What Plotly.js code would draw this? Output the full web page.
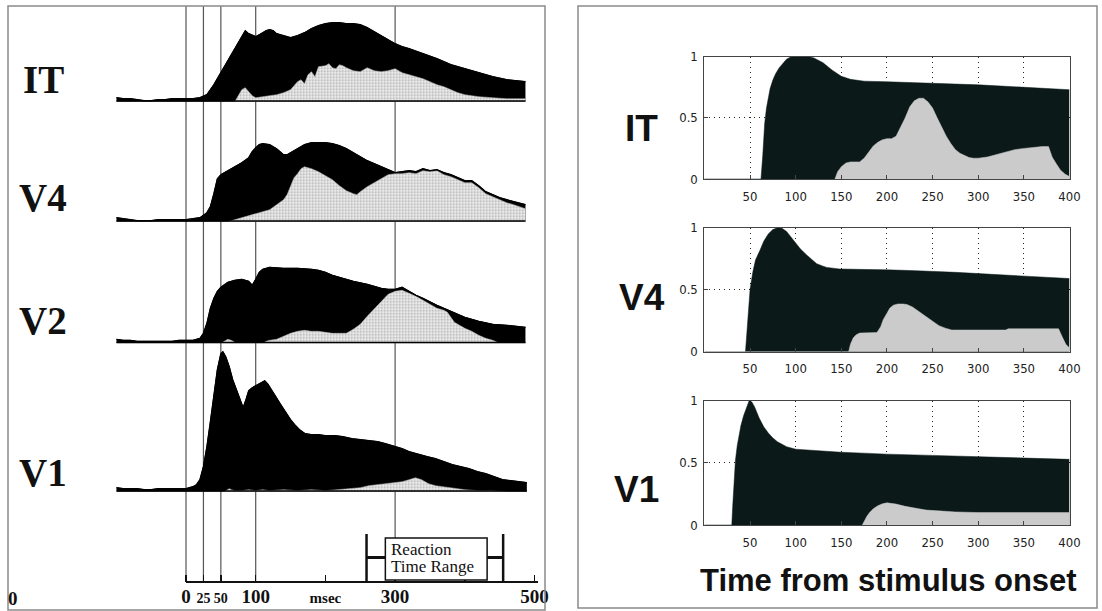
<!DOCTYPE html>
<html><head><meta charset="utf-8">
<script src="https://cdn.plot.ly/plotly-3.0.1.min.js"></script>
<style>html,body{margin:0;padding:0;background:#fff;}#chart{width:1102px;height:611px;}</style>
</head><body><div id="chart"></div>
<script>
// ---------------- LEFT: recorded PSTHs (time in msec, rate in arbitrary units) ----------------
const tIT = [-100,-90,-80,-70,-60,-50,-40,-30,-20,-10,0,10,20,30,40,50,60,70,80,85,90,100,110,115,120,125,130,140,150,160,170,180,190,200,210,220,230,240,250,260,270,280,290,300,310,320,340,360,380,400,420,440,460,480,487];
const itBlack = [4,3,3,2,1,1,2,2,3,3,3,3,4,7,17,29,41,52,64,71,68,65,69,71,72,71,68,66,64,66,69,73,76,78,79,79,78,78,77,74,70,66,62,58,55,53,48,43,37,33,29,25,22,20,20];
const tITg = [70,75,80,85,90,95,100,110,120,130,140,150,155,160,165,170,175,180,185,190,200,205,210,215,220,225,230,240,250,260,270,280,290,300,310,320,330,340,350,360,370,380,390,400,420,440,460,480,487];
const itGray = [0,6,12,14,10,6,4,5,6,7,9,12,16,20,22,18,27,30,25,35,36,38,34,33,37,36,34,31,30,34,31,30,31,33,29,27,25,23,20,17,15,12,9,7,5,4,3,3,3];

const tV4 = [-100,-90,-80,-70,-60,-50,-40,-30,-20,-10,0,10,20,30,35,40,45,50,60,70,80,90,95,100,105,110,120,130,140,145,150,160,170,180,190,200,210,220,230,240,250,260,270,280,290,300,310,320,330,340,350,360,370,380,390,400,410,420,430,440,450,460,470,480,487];
const v4Black = [4,3,2,1,1,1,2,2,2,2,2,3,4,9,15,28,43,47,51,55,59,64,70,74,77,78,77,73,67,67,69,73,77,79,79,79,78,76,73,69,65,61,58,55,52,49,50,51,50,53,51,52,49,47,44,41,41,36,30,27,24,22,20,18,17];
const tV4g = [60,70,80,90,100,110,120,130,140,145,150,155,160,165,170,180,190,200,210,220,230,240,245,250,260,270,280,290,300,310,320,330,340,350,360,370,380,390,400,410,420,430,440,450,460,470,480,487];
const v4Gray = [0,2,4,6,8,10,12,17,22,27,36,44,48,53,55,53,50,46,42,36,31,28,27,30,35,39,43,47,48,48,49,48,51,50,51,47,45,42,39,39,34,28,25,22,19,17,15,13];

const tV2 = [-100,-90,-80,-70,-60,-50,-40,-30,-20,-10,0,10,20,25,30,35,40,45,50,60,70,80,90,95,100,105,110,120,140,160,180,190,200,210,220,240,260,280,290,300,310,320,330,340,360,380,400,420,440,460,480,487];
const v2Black = [4,3,3,2,2,2,2,2,2,3,3,3,5,10,20,35,45,52,56,61,63,64,62,58,64,71,74,76,75,75,74,73,71,68,66,62,59,55,54,54,56,52,48,45,38,32,26,22,19,18,16,16];
const tV2g = [50,55,60,65,70,75,110,115,120,130,140,150,160,170,180,190,200,210,220,230,240,250,260,270,280,290,300,310,320,330,340,350,360,370,375,380,385,390,400,410,420,430,440,450];
const v2Gray = [0,2,4,3,1,0,0,2,3,4,7,10,12,13,12,12,11,10,10,10,14,19,27,34,41,49,52,53,50,47,43,39,35,33,31,26,21,19,15,12,8,5,3,0];

const tV1 = [-100,-90,-80,-70,-60,-50,-40,-30,-20,-10,0,5,10,15,20,25,30,35,40,45,50,53,57,62,67,72,77,82,86,90,95,100,105,110,113,117,122,127,135,142,150,156,163,171,180,190,200,214,225,238,250,262,275,286,300,310,320,334,346,358,370,382,394,406,418,430,442,454,466,478,489];
const v1Black = [4,3,3,3,2,2,3,3,3,3,3,4,5,7,12,25,45,70,98,122,138,140,135,125,112,102,92,84,92,101,104,106,108,110,111,108,103,97,88,80,72,67,62,58,57,57,56,56,55,53,52,51,50,48,45,43,40,37,35,33,30,27,25,23,20,18,15,12,11,10,9];
const tV1g = [55,60,62,65,70,80,90,100,110,120,140,160,180,200,220,238,250,262,275,286,300,310,320,329,338,348,358,368,378,387,400,420,440,460];
const v1Gray = [0,2,3,2,1,1,2,1,2,1,2,1,2,1,2,3,4,6,7,8,9,10,12,14,12,8,6,5,4,3,2,1,1,0];

const leftNames = ['IT','V4','V2','V1'];
const markerTimes = [0,25,50,100,300];
const leftTickVals = [0,25,50,100,200,300,400,500];
const leftTickText = ['0','25','50','100','msec','300','','500'];
const axisSpan = [0,505];
const rtRange = [259,455];      // reaction time range bracket (msec)
const rtBox = [286,432];        // label box (msec)

// ---------------- RIGHT: model responses (normalised) ----------------
const rxIT = [0,62,64,66,68,70,72,75,78,82,86,90,95,115,120,130,140,150,160,175,200,225,250,275,300,325,350,375,400];
const ryIT = [0,0,0.2,0.45,0.58,0.67,0.74,0.81,0.86,0.91,0.95,0.98,1.0,1.0,0.99,0.95,0.89,0.84,0.815,0.8,0.795,0.79,0.785,0.775,0.77,0.76,0.75,0.735,0.73];
const gxIT = [143,146,150,155,160,170,175,180,185,190,195,200,205,210,215,220,225,230,235,240,245,250,255,260,265,270,275,280,285,290,295,300,310,320,330,340,350,360,370,377,381,385,390,395,400];
const gyIT = [0,0.06,0.1,0.13,0.14,0.14,0.17,0.22,0.27,0.3,0.32,0.33,0.33,0.35,0.42,0.5,0.59,0.64,0.66,0.66,0.63,0.58,0.5,0.42,0.35,0.29,0.24,0.21,0.19,0.175,0.17,0.17,0.18,0.2,0.22,0.24,0.25,0.26,0.265,0.265,0.18,0.13,0.074,0.04,0.02];

const rxV4 = [0,45,47,49,50,53,56,61,65,70,75,80,85,90,97,105,112,118,123,130,134,148,175,200,225,250,275,300,325,350,375,400];
const ryV4 = [0,0,0.2,0.4,0.5,0.64,0.74,0.82,0.89,0.95,0.985,1.0,0.995,0.97,0.9,0.83,0.78,0.74,0.71,0.69,0.68,0.667,0.665,0.66,0.655,0.65,0.64,0.63,0.62,0.605,0.595,0.59];
const gxV4 = [158,160,163,166,170,180,189,193,196,200,203,207,212,218,222,228,234,239,245,250,257,264,271,280,300,330,333,360,388,392,396,400];
const gyV4 = [0,0.06,0.11,0.135,0.15,0.155,0.155,0.2,0.26,0.31,0.35,0.375,0.385,0.385,0.38,0.36,0.33,0.3,0.27,0.245,0.21,0.19,0.175,0.175,0.175,0.175,0.185,0.185,0.185,0.12,0.06,0.03];

const rxV1 = [0,30,31,32,33,34,36,38,40,43,46,49,52,55,60,65,70,75,80,90,100,125,150,175,200,250,300,350,400];
const ryV1 = [0,0,0.15,0.3,0.43,0.52,0.64,0.74,0.8,0.88,0.95,1.0,0.99,0.95,0.86,0.79,0.74,0.7,0.67,0.63,0.61,0.595,0.585,0.578,0.57,0.56,0.55,0.54,0.528];
const gxV1 = [173,175,178,181,185,190,195,200,205,210,220,230,243,260,275,300,400];
const gyV1 = [0,0.03,0.07,0.1,0.13,0.155,0.17,0.178,0.176,0.168,0.15,0.135,0.12,0.112,0.105,0.1,0.1];

const rightNames = ['IT','V4','V1'];
const rightXTicks = [50,100,150,200,250,300,350,400];
const rightYTicks = [0,0.5,1];
const rightYText = ['0','0.5','1'];
const xLabel = 'Time from stimulus onset';

// ---------------- geometry / style ----------------
const W=1102, H=611;
const fx = p => p/W, fy = p => 1 - p/H;
const SERIF = 'Liberation Serif, Times New Roman, serif';
const SANS = 'Liberation Sans, Arial, Helvetica, sans-serif';
const NARROW = 'Liberation Sans Narrow, Arial Narrow, DejaVu Sans Condensed, sans-serif';
const DARK = '#0b1919', LGRAY = '#cbcbcb';

const leftSets = [
  {t:tIT, b:itBlack, tg:tITg, g:itGray, base:101.7, h:95, lab:79},
  {t:tV4, b:v4Black, tg:tV4g, g:v4Gray, base:221.7, h:115, lab:197},
  {t:tV2, b:v2Black, tg:tV2g, g:v2Gray, base:343.3, h:115, lab:320},
  {t:tV1, b:v1Black, tg:tV1g, g:v1Gray, base:491.7, h:150, lab:472}
];
const rightSets = [
  {x:rxIT, y:ryIT, gx:gxIT, gy:gyIT, top:56.7, bot:179, lab:128, lx:641},
  {x:rxV4, y:ryV4, gx:gxV4, gy:gyV4, top:227.7, bot:351.7, lab:297, lx:642},
  {x:rxV1, y:ryV1, gx:gxV1, gy:gyV1, top:400.7, bot:525, lab:489, lx:636}
];

const traces = [];
const layout = {
  width: W, height: H,
  margin: {l:0, r:0, t:0, b:0},
  paper_bgcolor: '#fff', plot_bgcolor: 'rgba(0,0,0,0)',
  showlegend: false, hovermode: false,
  shapes: [], annotations: []
};

// left x axis (shared), anchored to a hidden full-height y axis
const xL0 = 116.3, xL1 = 538;
layout.xaxis = {
  domain: [fx(xL0), fx(xL1)], range: [-100, 505], anchor: 'y5',
  showgrid: false, zeroline: false, showline: false,
  tickmode: 'array', tickvals: leftTickVals,
  ticktext: leftTickText.map(s => (s==='25'||s==='50') ? '<span style="font-size:14px">'+s+'</span>' : (s==='msec' ? '<span style="font-size:15px">'+s+'</span>' : s)),
  ticks: 'inside', ticklen: 7, tickwidth: 1.5, tickcolor: '#111',
  ticklabelstandoff: 1,
  tickfont: {family: SERIF, size: 19, color: '#111', weight: 'bold'}
};
layout.yaxis5 = {domain: [fy(582), fy(6)], range: [0,1], visible: false, anchor: 'x'};
// empty trace that creates the (x, y5) subplot carrying the time axis
traces.push({x: [], y: [], xaxis: 'x', yaxis: 'y5', type: 'scatter', mode: 'lines'});

leftSets.forEach((s, i) => {
  const yn = i === 0 ? 'y' : 'y' + (i+1);
  const key = i === 0 ? 'yaxis' : 'yaxis' + (i+1);
  layout[key] = {domain: [fy(s.base), fy(s.base - s.h)], range: [0, s.h], visible: false, anchor: 'x'};
  traces.push({x: s.t, y: s.b, xaxis: 'x', yaxis: yn, type: 'scatter', mode: 'lines',
    fill: 'tozeroy', fillcolor: '#000', line: {color: '#000', width: 1}});
  traces.push({x: s.tg, y: s.g, xaxis: 'x', yaxis: yn, type: 'scatter', mode: 'lines',
    fill: 'tozeroy', fillcolor: '#e6e6e6',
    fillpattern: {shape: '.', bgcolor: '#ededed', fgcolor: '#ababab', size: 3, solidity: 0.3},
    line: {color: '#bdbdbd', width: 0.5}});
  traces.push({x: s.t, y: s.b, xaxis: 'x', yaxis: yn, type: 'scatter', mode: 'lines',
    line: {color: '#000', width: 1.3}});
  traces.push({x: [s.t[0], s.t[s.t.length-1]], y: [0, 0], xaxis: 'x', yaxis: yn, type: 'scatter', mode: 'lines',
    line: {color: '#000', width: 3}});
  layout.annotations.push({xref: 'paper', yref: 'paper', x: fx(43), y: fy(s.lab), text: '<b>'+leftNames[i]+'</b>',
    showarrow: false, xanchor: 'center', yanchor: 'middle', font: {family: SERIF, size: 39, color: '#111'}});
});

// vertical reference lines (behind the histograms) and axis line
markerTimes.forEach(m => layout.shapes.push({type: 'line', xref: 'x', yref: 'paper', x0: m, x1: m,
  y0: fy(582), y1: fy(6), line: {color: '#555', width: 1.2}, layer: 'below'}));
layout.shapes.push({type: 'line', xref: 'x', yref: 'paper', x0: axisSpan[0], x1: axisSpan[1],
  y0: fy(582), y1: fy(582), line: {color: '#111', width: 2}, layer: 'above'});

// reaction time range bracket
rtRange.forEach(r => layout.shapes.push({type: 'line', xref: 'x', yref: 'paper', x0: r, x1: r,
  y0: fy(582), y1: fy(534), line: {color: '#111', width: 2.5}, layer: 'above'}));
layout.shapes.push({type: 'line', xref: 'x', yref: 'paper', x0: rtRange[0], x1: rtBox[0],
  y0: fy(557.5), y1: fy(557.5), line: {color: '#111', width: 3}, layer: 'above'});
layout.shapes.push({type: 'line', xref: 'x', yref: 'paper', x0: rtBox[1], x1: rtRange[1],
  y0: fy(557.5), y1: fy(557.5), line: {color: '#111', width: 3}, layer: 'above'});
layout.shapes.push({type: 'rect', xref: 'x', yref: 'paper', x0: rtBox[0], x1: rtBox[1],
  y0: fy(580), y1: fy(538), fillcolor: '#fff', line: {color: '#111', width: 1.5}, layer: 'above'});
layout.annotations.push({xref: 'paper', yref: 'paper', x: fx(389), y: fy(549), text: 'Reaction',
  showarrow: false, xanchor: 'left', yanchor: 'middle', font: {family: SERIF, size: 17, color: '#111'}});
layout.annotations.push({xref: 'paper', yref: 'paper', x: fx(389), y: fy(566), text: 'Time Range',
  showarrow: false, xanchor: 'left', yanchor: 'middle', font: {family: SERIF, size: 17, color: '#111'}});
layout.annotations.push({xref: 'paper', yref: 'paper', x: fx(13), y: fy(598), text: '<b>0</b>',
  showarrow: false, xanchor: 'center', yanchor: 'middle', font: {family: SERIF, size: 19, color: '#111'}});

// right panels
const xR0 = 704.4, xR1 = 1069.5;
rightSets.forEach((s, i) => {
  const xn = 'x' + (i+2), yn = 'y' + (i+6);
  layout['xaxis' + (i+2)] = {
    domain: [fx(xR0), fx(xR1)], range: [0, 400], anchor: yn,
    tickmode: 'array', tickvals: rightXTicks, ticks: 'inside', ticklen: 4, tickcolor: '#444',
    showline: true, mirror: true, linecolor: '#444', linewidth: 1,
    showgrid: true, gridcolor: '#222', griddash: '1px,4px', gridwidth: 1, zeroline: false,
    ticklabelstandoff: 5,
    tickfont: {family: NARROW, size: 13, color: '#222'}
  };
  layout['yaxis' + (i+6)] = {
    domain: [fy(s.bot), fy(s.top)], range: [0, 1], anchor: xn,
    tickmode: 'array', tickvals: rightYTicks, ticktext: rightYText, ticks: 'inside', ticklen: 4, tickcolor: '#444',
    showline: true, mirror: true, linecolor: '#444', linewidth: 1,
    showgrid: true, gridcolor: '#222', griddash: '1px,4px', gridwidth: 1, zeroline: false,
    ticklabelstandoff: 3,
    tickfont: {family: NARROW, size: 13, color: '#222'}
  };
  traces.push({x: s.x, y: s.y, xaxis: xn, yaxis: yn, type: 'scatter', mode: 'lines',
    fill: 'tozeroy', fillcolor: DARK, line: {color: DARK, width: 0.5}});
  traces.push({x: s.gx, y: s.gy, xaxis: xn, yaxis: yn, type: 'scatter', mode: 'lines',
    fill: 'tozeroy', fillcolor: LGRAY, line: {color: LGRAY, width: 0.5}});
  layout.annotations.push({xref: 'paper', yref: 'paper', x: fx(s.lx), y: fy(s.lab), text: '<b>'+rightNames[i]+'</b>',
    showarrow: false, xanchor: 'center', yanchor: 'middle', font: {family: SANS, size: 37, color: '#111'}});
});
layout.annotations.push({xref: 'paper', yref: 'paper', x: fx(888), y: fy(580), text: '<b>'+xLabel+'</b>',
  showarrow: false, xanchor: 'center', yanchor: 'middle', font: {family: SANS, size: 31, color: '#111'}});

// panel frames
layout.shapes.push({type: 'rect', xref: 'paper', yref: 'paper', x0: fx(8), x1: fx(545), y0: fy(610), y1: fy(6),
  line: {color: '#8a8a8a', width: 1.5}, layer: 'above'});
layout.shapes.push({type: 'rect', xref: 'paper', yref: 'paper', x0: fx(578), x1: fx(1097), y0: fy(608), y1: fy(6),
  line: {color: '#8a8a8a', width: 1.5}, layer: 'above'});

Plotly.newPlot('chart', traces, layout, {staticPlot: true, displayModeBar: false});
</script>
</body></html>
